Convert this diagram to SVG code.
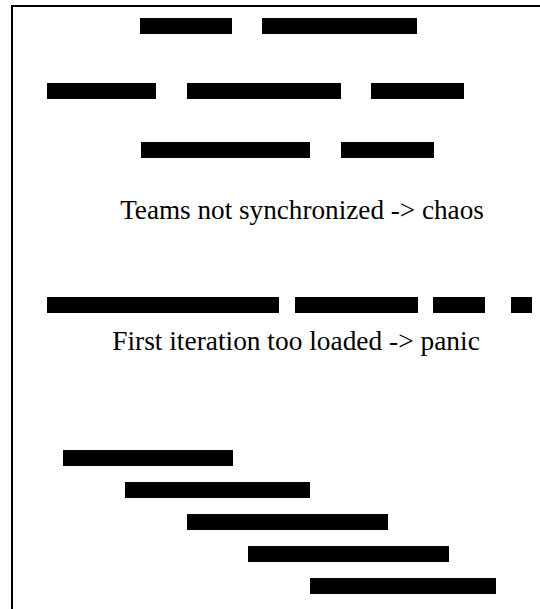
<svg xmlns="http://www.w3.org/2000/svg" width="540" height="609" viewBox="0 0 540 609">
<style>
.bar{fill:#000}
.frame{fill:none;stroke:#000;stroke-width:2}
</style>
<rect width="540" height="609" fill="#fff"/>
<g id="frame">
<path class="frame" d="M12,609 V6 H540"/>
</g>
<g id="row1">
<rect class="bar" x="140" y="18" width="92" height="16"/>
<rect class="bar" x="262" y="18" width="155" height="16"/>
</g>
<g id="row2">
<rect class="bar" x="47" y="83" width="109" height="16"/>
<rect class="bar" x="187" y="83" width="154" height="16"/>
<rect class="bar" x="371" y="83" width="93" height="16"/>
</g>
<g id="row3">
<rect class="bar" x="141" y="142" width="169" height="16"/>
<rect class="bar" x="341" y="142" width="93" height="16"/>
</g>
<g id="label1">
<text x="302" y="219" font-family="Liberation Serif, Times New Roman, DejaVu Serif, serif" font-size="27.2" text-anchor="middle" fill="#000">Teams not synchronized -&gt; chaos</text>
</g>
<g id="row4">
<rect class="bar" x="47" y="297" width="232" height="16"/>
<rect class="bar" x="295" y="297" width="123" height="16"/>
<rect class="bar" x="433" y="297" width="52" height="16"/>
<rect class="bar" x="511" y="297" width="21" height="16"/>
</g>
<g id="label2">
<text x="296" y="350" font-family="Liberation Serif, Times New Roman, DejaVu Serif, serif" font-size="27.4" text-anchor="middle" fill="#000">First iteration too loaded -&gt; panic</text>
</g>
<g id="gantt">
<rect class="bar" x="63" y="450" width="170" height="16"/>
<rect class="bar" x="125" y="482" width="185" height="16"/>
<rect class="bar" x="187" y="514" width="201" height="16"/>
<rect class="bar" x="248" y="546" width="201" height="16"/>
<rect class="bar" x="310" y="578" width="186" height="16"/>
</g>
</svg>
